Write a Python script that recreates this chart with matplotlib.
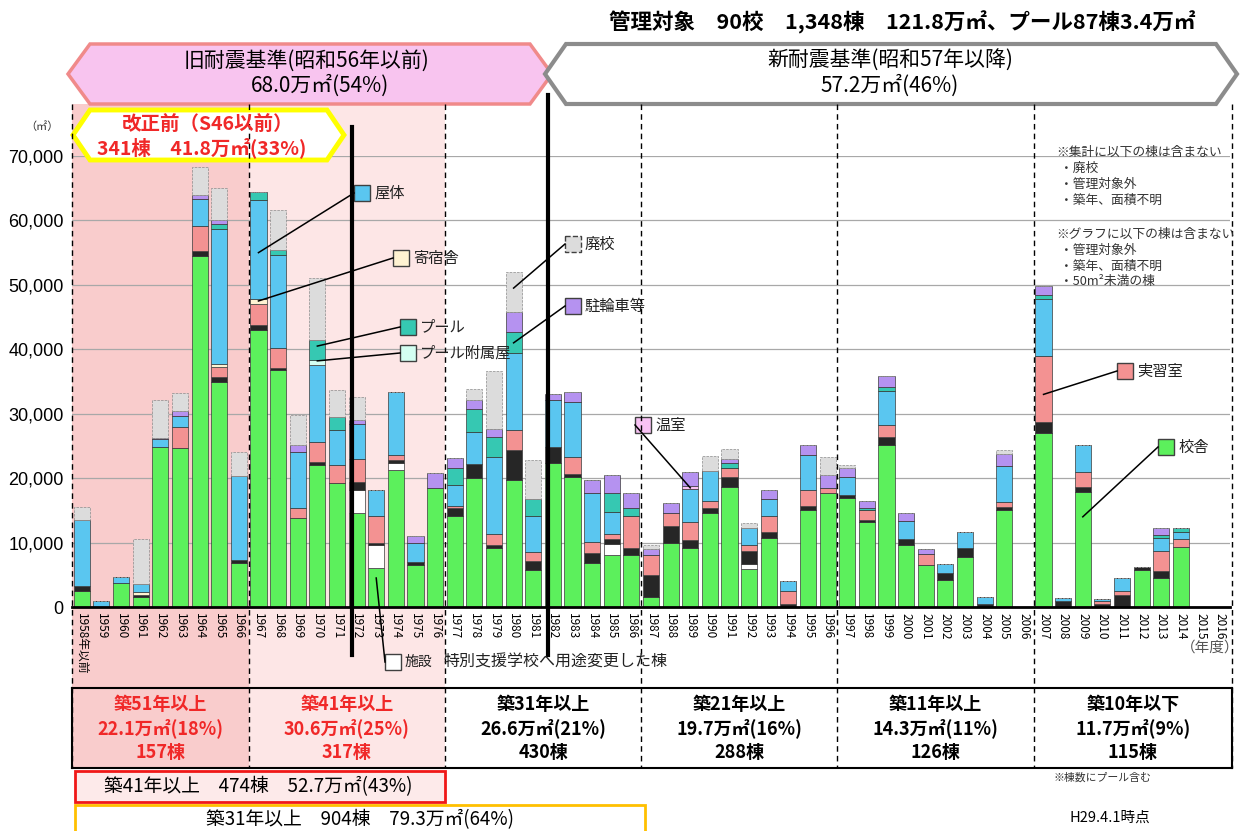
import matplotlib
matplotlib.use("Agg")
import matplotlib.pyplot as plt
from matplotlib.patches import Polygon, Rectangle
import numpy as np

plt.rcParams['font.family'] = ['Noto Sans CJK JP', 'DejaVu Sans']

# ---------------- data ----------------
years = ["1958年以前"] + [str(y) for y in range(1959, 2017)]

# values per building type (m2), one entry per year
kousha    = [2500,0,3700,1500,24800,24700,54500,35000,6800,43000,36800,13800,22000,19200,14600,6100,21300,6500,18500,
             14100,20000,9200,19700,5700,22300,20200,6800,8000,8100,1500,10000,9100,14600,18600,5900,10700,0,15100,17700,
             16900,13200,25100,9600,6500,4200,7800,0,15000,0,27000,0,17800,0,0,5700,4500,9300,0,0]
shisetsu  = [0,0,0,0,0,0,0,0,0,0,0,0,0,0,3600,3500,1000,0,0,
             0,0,0,0,0,0,0,0,1800,0,0,0,0,0,0,800,0,0,0,0,
             0,0,0,0,0,0,0,0,0,0,0,0,0,0,0,0,0,0,0,0]
sonota    = [800,0,0,300,0,0,700,700,500,700,300,0,500,0,1200,400,500,500,0,
             1200,2200,500,4600,1500,2600,500,1600,800,1000,3500,2600,1300,800,1500,2000,1000,400,500,0,
             500,300,1300,900,0,1100,1300,500,500,0,1700,900,900,500,1900,500,1100,0,0,0]
jisshu    = [0,0,0,0,0,3300,3900,1500,0,3400,3100,1600,3100,2800,3500,4200,800,0,0,
             300,0,1600,3100,1300,0,2600,1700,800,5000,3000,2000,2800,1000,1500,1000,2500,2100,2600,800,
             0,1600,1800,0,1800,0,0,0,800,0,10300,0,2300,400,600,0,3100,1300,0,0]
kishuku   = [0,0,0,500,0,0,0,500,0,700,0,0,0,0,0,0,0,0,0,
             0,0,0,0,0,0,0,0,0,0,0,0,0,0,0,0,0,0,0,0,
             0,0,0,0,0,0,0,0,0,0,0,0,0,0,0,0,0,0,0,0]
okutai    = [10200,1000,1000,1300,1200,1700,4200,21000,13000,15300,14400,8700,12000,5500,5500,4000,9800,3000,0,
             3400,5000,12000,12000,5700,7200,8500,7600,3300,0,0,0,5100,4700,0,2600,2600,1500,5400,0,
             2800,0,5400,2800,0,1400,2600,1100,5600,0,8800,500,4100,300,2000,0,2000,1000,0,0]
pool_fuzoku = [0,0,0,0,0,0,0,0,0,0,0,0,800,0,0,0,0,0,0,
               0,0,0,0,0,0,0,0,0,0,0,0,0,0,0,0,0,0,0,0,
               0,0,0,0,0,0,0,0,0,0,0,0,0,0,0,0,0,0,0,0]
pool      = [0,0,0,0,0,0,0,800,0,1300,800,0,3100,2000,0,0,0,0,0,
             2600,3500,3100,3300,2600,0,0,0,3000,1300,0,0,0,0,800,0,0,0,0,0,
             0,300,500,0,0,0,0,0,0,0,600,0,0,0,0,0,500,600,0,0]
onshitsu  = [0,0,0,0,0,0,0,0,0,0,0,0,0,0,0,0,0,0,0,
             0,0,0,0,0,0,0,0,0,0,0,0,500,0,0,0,0,0,0,0,
             0,0,0,0,0,0,0,0,0,0,0,0,0,0,0,0,0,0,0,0]
churin    = [0,0,0,0,300,700,700,500,0,0,0,1000,0,0,700,0,0,1000,2300,
             1500,1500,1300,3100,0,1000,1500,2000,2800,2300,1000,1500,2100,0,500,0,1300,0,1500,2000,
             1300,1100,1800,1300,700,0,0,0,1900,0,1500,0,0,0,0,0,1000,0,0,0]
haikou    = [2000,0,0,7000,5800,2800,4300,5000,3700,0,6200,4700,9500,4200,3500,0,0,0,0,
             0,1700,8900,6200,6000,0,0,0,0,0,600,0,0,2300,1700,700,0,0,0,2800,
             500,0,0,0,0,0,0,0,500,0,0,0,0,0,0,0,0,0,0,0]

series = [
    ("校舎", kousha, "#5cf05c", "-"),
    ("施設", shisetsu, "#ffffff", "-"),
    ("その他", sonota, "#262626", "-"),
    ("実習室", jisshu, "#f39292", "-"),
    ("寄宿舎", kishuku, "#fff3d2", "-"),
    ("屋体", okutai, "#5ac6f0", "-"),
    ("プール附属屋", pool_fuzoku, "#d4fff2", "-"),
    ("プール", pool, "#36c8b2", "-"),
    ("温室", onshitsu, "#f8c2f4", "-"),
    ("駐輪車等", churin, "#b592f0", "-"),
    ("廃校", haikou, "#dcdcdc", "--"),
]
colors = {name: c for name, _, c, _ in series}

yticks = [0, 10000, 20000, 30000, 40000, 50000, 60000, 70000]

group_cells = [
    ("築51年以上", "22.1万㎡(18%)", "157棟", "#f02828"),
    ("築41年以上", "30.6万㎡(25%)", "317棟", "#f02828"),
    ("築31年以上", "26.6万㎡(21%)", "430棟", "black"),
    ("築21年以上", "19.7万㎡(16%)", "288棟", "black"),
    ("築11年以上", "14.3万㎡(11%)", "126棟", "black"),
    ("築10年以下", "11.7万㎡(9%)", "115棟", "black"),
]

W, H = 1241, 831
fig = plt.figure(figsize=(W / 100, H / 100), dpi=100)

# background layer in pixel coords
bg = fig.add_axes([0, 0, 1, 1], zorder=0)
bg.set_xlim(0, W); bg.set_ylim(H, 0); bg.axis("off")

X0, X1 = 72, 1230
Y0, Y70 = 607, 156
bw = (X1 - X0) / len(years)
xb = [X0 + i * bw for i in (0, 9, 19, 29, 39, 49)] + [X1]

bg.add_patch(Rectangle((xb[0], 104), xb[1] - xb[0], 664, color="#f9cccc", lw=0))
bg.add_patch(Rectangle((xb[1], 104), xb[2] - xb[1], 664, color="#fde6e6", lw=0))

# main bar axes
ax = fig.add_axes([X0 / W, (H - Y0) / H, (X1 - X0) / W, (Y0 - Y70) / H], zorder=1)
ax.patch.set_alpha(0)
x = np.arange(len(years))
bottom = np.zeros(len(years))
for name, vals, col, ls in series:
    v = np.array(vals, dtype=float)
    ax.bar(x, v, bottom=bottom, width=0.82, color=col,
           edgecolor="#8a8a8a" if ls == "--" else "#3a3a3a", linewidth=0.5, linestyle=ls)
    bottom += v

ax.set_xlim(-0.5, len(years) - 0.5)
ax.set_ylim(0, 70000)
ax.set_yticks(yticks)
ax.set_yticklabels([f"{t:,}" for t in yticks], fontsize=13, family="Liberation Sans")
ax.set_xticks(x)
ax.set_xticklabels(years, rotation=270, fontsize=8.5, va="top", ha="center")
ax.tick_params(length=0, pad=4)
ax.tick_params(axis="y", pad=6)
ax.yaxis.grid(True, color="#a8a8a8", lw=0.9)
ax.set_axisbelow(True)
for s in ["top", "right", "left"]:
    ax.spines[s].set_visible(False)
ax.spines["bottom"].set_linewidth(2)

# foreground annotation layer
fg = fig.add_axes([0, 0, 1, 1], zorder=3)
fg.set_xlim(0, W); fg.set_ylim(H, 0); fg.axis("off")

for xv in xb[:-1]:
    fg.plot([xv, xv], [104, 768], color="black", lw=1, ls=(0, (4, 3)))
fg.plot([1232, 1232], [104, 768], color="black", lw=1, ls=(0, (4, 3)))
fg.plot([352, 352], [127, 655], color="black", lw=3)
fg.plot([548, 548], [95, 655], color="black", lw=3)

# banners
fg.add_patch(Polygon([(68, 74), (90, 44), (530, 44), (552, 74), (530, 104), (90, 104)],
                     closed=True, fc="#f8c4ef", ec="#f08a8a", lw=2.5))
fg.text(306, 61, "旧耐震基準(昭和56年以前)", ha="center", va="center", fontsize=15)
fg.text(320, 86, "68.0万㎡(54%)", ha="center", va="center", fontsize=15)
fg.add_patch(Polygon([(545, 74), (566, 44), (1216, 44), (1237, 74), (1216, 104), (566, 104)],
                     closed=True, fc="white", ec="#8c8c8c", lw=3))
fg.text(890, 61, "新耐震基準(昭和57年以降)", ha="center", va="center", fontsize=15)
fg.text(890, 86, "57.2万㎡(46%)", ha="center", va="center", fontsize=15)

fg.text(902, 22, "管理対象　90校　1,348棟　121.8万㎡、プール87棟3.4万㎡",
        ha="center", va="center", fontsize=15.5, fontweight="bold")

fg.add_patch(Polygon([(73, 135), (90, 110), (327, 110), (344, 135), (327, 160), (90, 160)],
                     closed=True, fc="white", ec="#ffff00", lw=3.5))
fg.text(208, 124, "改正前（S46以前）", ha="center", va="center", fontsize=14,
        color="#f02828", fontweight="bold")
fg.text(202, 148, "341棟　41.8万㎡(33%)", ha="center", va="center", fontsize=14,
        color="#f02828", fontweight="bold")
fg.text(42, 127, "（㎡）", ha="center", va="center", fontsize=8, color="#333333")

# callouts: (label, box x, box y, bar index, value height)
def bar_px(i, val):
    return X0 + (i + 0.5) * bw, Y0 - val / 70000 * (Y0 - Y70)

callouts = [
    ("屋体", 362, 193, 9, 55000),
    ("寄宿舎", 401, 258, 9, 47500),
    ("プール", 408, 327, 12, 40500),
    ("プール附属屋", 408, 353, 12, 38200),
    ("廃校", 573, 244, 22, 49500),
    ("駐輪車等", 573, 306, 22, 41000),
    ("温室", 643, 425, 31, 18500),
    ("実習室", 1125, 371, 49, 33000),
    ("校舎", 1166, 447, 51, 14000),
    ("施設", 393, 662, 15, 4500),
]
for label, bx, by, bi, bv in callouts:
    px, py = bar_px(bi, bv)
    fg.plot([px, bx - 8], [py, by], color="black", lw=1.1)
    fg.add_patch(Rectangle((bx - 8, by - 8), 16, 16, fc=colors[label], ec="#404040",
                           lw=1, ls="--" if label == "廃校" else "-"))
    fs = 10 if label == "施設" else 11
    fg.text(bx + 12, by, label, ha="left", va="center", fontsize=fs, color="#222222")
fg.text(444, 662, "特別支援学校へ用途変更した棟", ha="left", va="center", fontsize=11.5, color="#222222")

notes1 = ["※集計に以下の棟は含まない", "・廃校", "・管理対象外", "・築年、面積不明"]
notes2 = ["※グラフに以下の棟は含まない", "・管理対象外", "・築年、面積不明", "・50m²未満の棟"]
for k, t in enumerate(notes1):
    fg.text(1056 if k == 0 else 1060, 152 + k * 16, t, fontsize=9.2, va="center", color="#333333")
for k, t in enumerate(notes2):
    fg.text(1056 if k == 0 else 1060, 234 + k * 16, t, fontsize=9.2, va="center", color="#333333")
fg.text(1210, 648, "（年度）", ha="center", va="center", fontsize=10.5, color="#555555")

# bottom table
fg.plot([72, 1232], [688, 688], color="black", lw=1.5)
fg.plot([72, 1232], [768, 768], color="black", lw=1.5)
fg.plot([72, 72], [688, 768], color="black", lw=1.5)
fg.plot([1232, 1232], [688, 768], color="black", lw=1.5)
for k, (l1, l2, l3, c) in enumerate(group_cells):
    xc = (xb[k] + (xb[k + 1] if k < 5 else 1232)) / 2
    for j, t in enumerate((l1, l2, l3)):
        fg.text(xc, 704 + j * 24, t, ha="center", va="center", fontsize=13,
                fontweight="bold", color=c)

fg.add_patch(Rectangle((75, 771), 370, 31, fc="#fdeaea", ec="#f01818", lw=2))
fg.text(258, 787, "築41年以上　474棟　52.7万㎡(43%)", ha="center", va="center", fontsize=13.5)
fg.add_patch(Rectangle((75, 805), 570, 30, fc="white", ec="#ffc000", lw=2))
fg.text(360, 820, "築31年以上　904棟　79.3万㎡(64%)", ha="center", va="center", fontsize=13.5)
fg.text(1102, 778, "※棟数にプール含む", ha="center", va="center", fontsize=7.8, color="#333333")
fg.text(1110, 818, "H29.4.1時点", ha="center", va="center", fontsize=10.5)

fig.savefig("out.png", dpi=100)
